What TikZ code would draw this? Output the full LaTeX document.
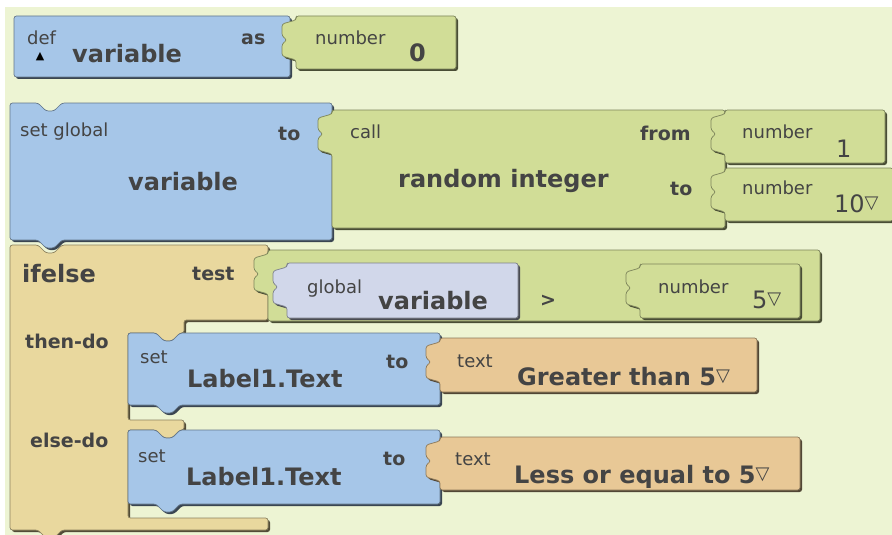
\documentclass[tikz,border=0pt]{standalone}
\usepackage{fontspec}
\setmainfont{DejaVu Sans}
\usepackage{tikz}

\definecolor{bgyel}{RGB}{237,244,211}
\definecolor{blkblue}{RGB}{166,198,232}
\definecolor{blkgreen}{RGB}{209,221,151}
\definecolor{blktan}{RGB}{233,216,158}
\definecolor{blkorange}{RGB}{232,200,150}
\definecolor{blkpurple}{RGB}{209,215,234}
\definecolor{lbl}{RGB}{68,68,68}

% plug on the left side of a value block, drawn going upwards
\newcommand{\plug}{-- ++(-14,-4) -- ++(0,-12) -- ++(5,-4) -- ++(-5,-4) -- ++(0,-12) -- ++(14,-4)}
\newcommand{\tri}{\raisebox{4pt}{\mdseries\fontsize{18}{18}\selectfont ▽}}

\begin{document}
\begin{tikzpicture}[x=1pt,y=-1pt,
  face/.style={fill=#1, draw=#1!60!black, line width=.7pt, rounded corners=2.5pt,
    preaction={fill=#1!35!black, transform canvas={shift={(2,2)}}}},
  small/.style={font=\fontsize{18}{20}\selectfont, text=lbl, anchor=base west, inner sep=0pt},
  key/.style={font=\bfseries\fontsize{19}{21}\selectfont, text=lbl, anchor=base west, inner sep=0pt},
  big/.style={font=\bfseries\fontsize{24}{28}\selectfont, text=lbl, anchor=base west, inner sep=0pt},
  val/.style={font=\fontsize{24}{28}\selectfont, text=lbl, anchor=base west, inner sep=0pt}]
  \useasboundingbox (0,0) rectangle (892,535);
  \fill[white] (0,0) rectangle (892,535);
  \fill[bgyel] (5,7) rectangle (892,535);

  % def block
  \path[face=blkblue] (14,16) -- (290,16) -- (290,77) -- (14,77) -- cycle;
  \path[face=blkgreen] (296,16) -- (456,16) -- (456,69) -- (296,69) -- (296,60) \plug -- cycle;
  \node[small] (defkw) at (27,45) {def};
  \node[font=\fontsize{11}{11}\selectfont, inner sep=0pt] (defmark) at (40,57) {▲};
  \node[big] (defname) at (72,63) {variable};
  \node[key] (askw) at (241,45) {as};
  \node[small] (numkwa) at (315,45) {number};
  \node[big] (numa) at (409,62) {0};

  % ifelse block
  \path[face=blktan] (10,245) -- (38,245) -- ++(8,8) -- ++(8,0) -- ++(8,-8) -- (268,245) -- (268,320)
    -- (184,320) -- (184,333) -- (180,333) -- ++(-8,8) -- ++(-8,0) -- ++(-8,-8) -- (128,333)
    -- (128,420) -- (184,420) -- (184,430) -- (180,430) -- ++(-8,8) -- ++(-8,0) -- ++(-8,-8) -- (128,430)
    -- (128,518) -- (268,518) -- (268,530) -- (62,530) -- ++(-8,8) -- ++(-8,0) -- ++(-8,-8) -- (10,530) -- cycle;

  % set global block
  \path[face=blkblue] (10,103) -- (38,103) -- ++(8,8) -- ++(8,0) -- ++(8,-8) -- (332,103) -- (332,240)
    -- (62,240) -- ++(-8,8) -- ++(-8,0) -- ++(-8,-8) -- (10,240) -- cycle;
  \path[face=blkgreen] (332,110) -- (725,110) -- (725,228) -- (332,228) -- (332,154) \plug -- cycle;
  \path[face=blkgreen] (725,110) -- (885,110) -- (885,163) -- (725,163) -- (725,154) \plug -- cycle;
  \path[face=blkgreen] (725,168) -- (893,168) -- (893,221) -- (725,221) -- (725,212) \plug -- cycle;
  \node[small] (setkw) at (20,136) {set global};
  \node[key] (tokwa) at (278,140) {to};
  \node[big] (setname) at (128,190) {variable};
  \node[small] (callkw) at (350,138) {call};
  \node[big] (callname) at (398,187) {random integer};
  \node[key] (fromkw) at (640,140) {from};
  \node[key] (tokwb) at (670,195) {to};
  \node[small] (numkwb) at (742,138) {number};
  \node[val] (numb) at (836,157) {1};
  \node[small] (numkwc) at (742,194) {number};
  \node[val] (numc) at (834,212) {10\tri};

  % test
  \path[face=blkgreen] (268,250) -- (820,250) -- (820,321) -- (268,321) -- (268,294) \plug -- cycle;
  \path[face=blkpurple] (287,263) -- (518,263) -- (518,318) -- (287,318) -- (287,307) \plug -- cycle;
  \path[face=blkgreen] (640,264) -- (800,264) -- (800,318) -- (640,318) -- (640,308) \plug -- cycle;
  \node[big] (ifkw) at (22,282) {ifelse};
  \node[key] (testkw) at (192,280) {test};
  \node[small] (globkw) at (307,293) {global};
  \node[big] (globname) at (378,309) {variable};
  \node[key] (gtop) at (540,306) {>};
  \node[small] (numkwd) at (658,293) {number};
  \node[val] (numd) at (752,308) {5\tri};

  % then-do
  \path[face=blkblue] (128,333) -- (156,333) -- ++(8,8) -- ++(8,0) -- ++(8,-8) -- (440,333) -- (440,405)
    -- (180,405) -- ++(-8,8) -- ++(-8,0) -- ++(-8,-8) -- (128,405) -- cycle;
  \path[face=blkorange] (440,338) -- (757,338) -- (757,392) -- (440,392) -- (440,382) \plug -- cycle;
  \node[key] (thenkw) at (25,348) {then-do};
  \node[small] (setkwa) at (140,363) {set};
  \node[key] (tokwc) at (386,368) {to};
  \node[big] (labela) at (187,387) {Label1.Text};
  \node[small] (textkwa) at (457,367) {text};
  \node[big] (texta) at (517,385) {Greater than 5\tri};

  % else-do
  \path[face=blkblue] (128,430) -- (156,430) -- ++(8,8) -- ++(8,0) -- ++(8,-8) -- (440,430) -- (440,504)
    -- (180,504) -- ++(-8,8) -- ++(-8,0) -- ++(-8,-8) -- (128,504) -- cycle;
  \path[face=blkorange] (440,437) -- (800,437) -- (800,490) -- (440,490) -- (440,481) \plug -- cycle;
  \node[key] (elsekw) at (30,447) {else-do};
  \node[small] (setkwb) at (138,462) {set};
  \node[key] (tokwd) at (383,465) {to};
  \node[big] (labelb) at (186,485) {Label1.Text};
  \node[small] (textkwb) at (455,465) {text};
  \node[big] (textb) at (514,483) {Less or equal to 5\tri};
\end{tikzpicture}
\end{document}
